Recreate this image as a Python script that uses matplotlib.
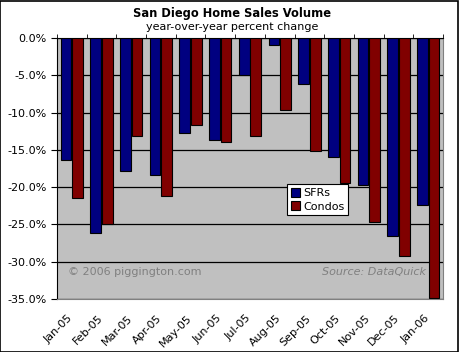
import matplotlib
matplotlib.use("Agg")
import matplotlib.pyplot as plt
import matplotlib.transforms as mtransforms
import numpy as np
from matplotlib.ticker import FuncFormatter
from matplotlib.patches import Rectangle

months = ["Jan-05", "Feb-05", "Mar-05", "Apr-05", "May-05", "Jun-05", "Jul-05",
          "Aug-05", "Sep-05", "Oct-05", "Nov-05", "Dec-05", "Jan-06"]
sfrs = [-16.3, -26.2, -17.9, -18.4, -12.8, -13.7, -5.0, -0.9, -6.2, -16.0, -19.7, -26.6, -22.4]
condos = [-21.5, -24.9, -13.2, -21.2, -11.6, -13.9, -13.2, -9.6, -15.1, -19.4, -24.7, -29.3, -34.8]

plt.rcParams['font.family'] = ['DejaVu Sans']

fig = plt.figure(figsize=(4.59, 3.52), dpi=100)
# black border round the chart
fig.patches.append(Rectangle((0.001, 0.001), 0.997, 0.996, transform=fig.transFigure,
                             fill=False, edgecolor='black', linewidth=1.2))

ax = fig.add_axes([57/459, 53/352, 386/459, 261/352])
ax.set_facecolor('#c0c0c0')

x = np.arange(len(months))
w = 0.36
ax.bar(x - 0.195, sfrs, w, color='#000080', edgecolor='black', linewidth=0.8,
       label='SFRs', zorder=3)
ax.bar(x + 0.195, condos, w, color='#800000', edgecolor='black', linewidth=0.8,
       label='Condos', zorder=3)

ax.set_xlim(-0.5, len(months) - 0.5)
ax.set_ylim(-35, 0)
ax.set_yticks(np.arange(-35, 1, 5))
ax.yaxis.set_major_formatter(FuncFormatter(lambda v, p: "%.1f%%" % v))
ax.yaxis.grid(True, color='black', linewidth=0.9, zorder=1)
ax.set_axisbelow(True)

ax.set_xticks(x)
ax.set_xticklabels(months, rotation=45, ha='right', rotation_mode='anchor')
ax.set_xticks(np.arange(-0.5, len(months)), minor=True)
ax.tick_params(axis='x', which='major', length=0, labelsize=8, pad=10)
ax.tick_params(axis='x', which='minor', top=True, bottom=False, direction='out',
               length=3, color='black')
ax.tick_params(axis='y', direction='out', length=4, labelsize=8, color='black')
# nudge the slanted month labels a little to the left
shift = mtransforms.ScaledTranslation(-4/100, 0, fig.dpi_scale_trans)
for lab in ax.get_xticklabels():
    lab.set_transform(lab.get_transform() + shift)

ax.spines['left'].set_color('black')
ax.spines['top'].set_color('black')
ax.spines['bottom'].set_color('#808080')
ax.spines['right'].set_color('#808080')

fig.text(232/459, 1 - 14/352, "San Diego Home Sales Volume", ha='center', va='center',
         fontsize=8.3, fontweight='bold')
fig.text(232/459, 1 - 27/352, "year-over-year percent change", ha='center', va='center',
         fontsize=8)

ax.text(0.028, 0.103, "\u00a9 2006 piggington.com", transform=ax.transAxes,
        fontsize=8, color='#808080', va='center', ha='left')
ax.text(0.956, 0.103, "Source: DataQuick", transform=ax.transAxes,
        fontsize=8, color='#808080', va='center', ha='right', style='italic')

leg = ax.legend(loc='upper left', bbox_to_anchor=(0.596, 0.44), fontsize=8,
                frameon=True, fancybox=False, framealpha=1, edgecolor='black',
                handlelength=0.8, handleheight=0.8, handletextpad=0.3,
                borderpad=0.35, labelspacing=0.3, borderaxespad=0)
leg.get_frame().set_linewidth(0.8)

fig.savefig("out.png", dpi=100)
